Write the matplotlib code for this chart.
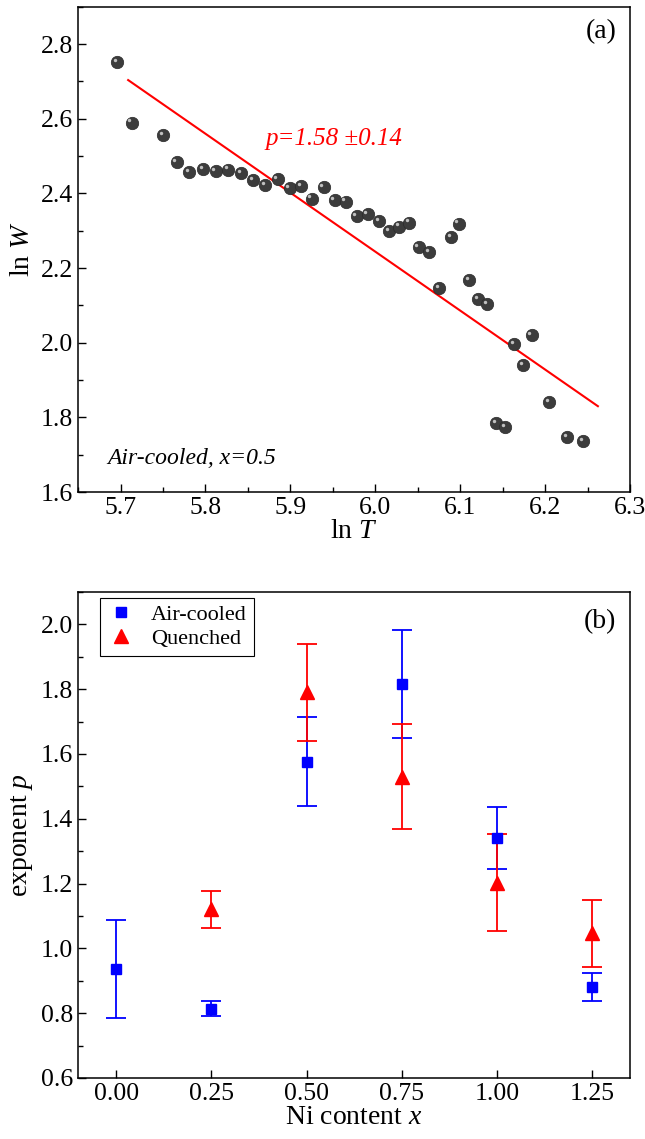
import numpy as np
import matplotlib
matplotlib.use("Agg")
import matplotlib.pyplot as plt
from matplotlib.ticker import MultipleLocator
from matplotlib.transforms import offset_copy

params = {
    "font.family": "Liberation Serif",
    "mathtext.fontset": "custom",
    "mathtext.rm": "Liberation Serif",
    "mathtext.it": "Liberation Serif:italic",
    "font.size": 18,
    "xtick.direction": "in",
    "ytick.direction": "in",
    "xtick.major.size": 6,
    "ytick.major.size": 6,
    "xtick.minor.size": 3.5,
    "ytick.minor.size": 3.5,
    "xtick.major.width": 1.0,
    "ytick.major.width": 1.0,
    "xtick.minor.width": 1.0,
    "ytick.minor.width": 1.0,
    "axes.linewidth": 1.1,
    "xtick.labelsize": 18.5,
    "ytick.labelsize": 18.5,
}
matplotlib.rcParams.update(params)

# panel (a): ln W vs ln T, air-cooled x=0.5
lnT = [5.696, 5.713, 5.750, 5.766, 5.781, 5.797, 5.812, 5.827, 5.842, 5.856,
       5.870, 5.885, 5.899, 5.913, 5.925, 5.939, 5.952, 5.965, 5.978, 5.991,
       6.004, 6.016, 6.028, 6.040, 6.051, 6.063, 6.075, 6.089, 6.098, 6.110,
       6.121, 6.132, 6.142, 6.153, 6.163, 6.174, 6.184, 6.205, 6.226, 6.245]
lnW = [2.752, 2.590, 2.557, 2.485, 2.458, 2.465, 2.459, 2.464, 2.455, 2.435,
       2.422, 2.438, 2.414, 2.419, 2.386, 2.416, 2.383, 2.378, 2.340, 2.345,
       2.326, 2.299, 2.311, 2.322, 2.256, 2.242, 2.147, 2.284, 2.319, 2.168,
       2.117, 2.103, 1.784, 1.773, 1.997, 1.941, 2.021, 1.841, 1.747, 1.736]
fit_slope = -1.58
fit_icpt = 11.724
fit_range = [5.709, 6.262]

# panel (b): exponent p vs Ni content
ni = [0.00, 0.25, 0.50, 0.75, 1.00, 1.25]
p_air = [0.935, 0.813, 1.576, 1.815, 1.340, 0.881]
p_air_err = [0.151, 0.023, 0.137, 0.167, 0.095, 0.043]
ni_q = [0.25, 0.50, 0.75, 1.00, 1.25]
p_q = [1.120, 1.790, 1.530, 1.202, 1.046]
p_q_err = [0.058, 0.149, 0.163, 0.150, 0.103]

fig = plt.figure(figsize=(6.45, 11.39), dpi=100)
ax1 = fig.add_axes([0.121, 0.568, 0.856, 0.426])
ax2 = fig.add_axes([0.121, 0.0536, 0.856, 0.4267])

# --- (a)
ax1.scatter(lnT, lnW, s=80, color="#3c3c3c", edgecolors="#2a2a2a", linewidths=0.5, zorder=3)
hl = offset_copy(ax1.transData, fig=fig, x=-1.6, y=1.6, units="points")
ax1.scatter(lnT, lnW, s=6, color="#d8d8d8", alpha=0.85, transform=hl, zorder=4, linewidths=0)
xf = np.array(fit_range)
ax1.plot(xf, fit_icpt + fit_slope * xf, color="red", lw=1.5, zorder=2)
ax1.text(5.871, 2.53, "p=1.58 \u00b10.14", color="red", fontstyle="italic", fontsize=18)
ax1.text(5.685, 1.675, "Air-cooled, x=0.5", fontstyle="italic", fontsize=17)
ax1.text(0.975, 0.975, "(a)", transform=ax1.transAxes, ha="right", va="top", fontsize=20)
ax1.set_xlim(5.65, 6.3)
ax1.set_ylim(1.6, 2.9)
ax1.xaxis.set_major_locator(MultipleLocator(0.1))
ax1.xaxis.set_minor_locator(MultipleLocator(0.05))
ax1.yaxis.set_major_locator(MultipleLocator(0.2))
ax1.yaxis.set_minor_locator(MultipleLocator(0.1))
ax1.set_xticks([5.7, 5.8, 5.9, 6.0, 6.1, 6.2, 6.3])
ax1.set_xlabel("ln $T$", fontsize=20, labelpad=0)
ax1.set_ylabel("ln $W$", fontsize=20, labelpad=4)

# --- (b)
ax2.errorbar(ni, p_air, yerr=p_air_err, fmt="s", color="blue", ms=7.5, capsize=7,
             elinewidth=1.3, capthick=1.3, label="Air-cooled", zorder=3)
ax2.errorbar(ni_q, p_q, yerr=p_q_err, fmt="^", color="red", ms=9.5, capsize=7,
             elinewidth=1.3, capthick=1.3, label="Quenched", zorder=3)
ax2.text(0.975, 0.965, "(b)", transform=ax2.transAxes, ha="right", va="top", fontsize=20)
ax2.set_xlim(-0.1, 1.35)
ax2.set_ylim(0.6, 2.1)
ax2.set_xticks(ni)
ax2.set_xticklabels(["%.2f" % v for v in ni])
ax2.yaxis.set_major_locator(MultipleLocator(0.2))
ax2.yaxis.set_minor_locator(MultipleLocator(0.1))
ax2.set_xlabel("Ni content $x$", fontsize=20, labelpad=0)
ax2.set_ylabel("exponent $p$", fontsize=20, labelpad=4)
handles, labels = ax2.get_legend_handles_labels()
handles = [h[0] for h in handles]
leg = ax2.legend(handles, labels, loc="upper left", fontsize=16, fancybox=False,
                 edgecolor="black", framealpha=1, borderpad=0.3, handletextpad=0.7,
                 handlelength=1.3, labelspacing=0.15, borderaxespad=0,
                 bbox_to_anchor=(0.04, 0.988))
leg.get_frame().set_linewidth(0.8)

for ax in (ax1, ax2):
    ax.tick_params(which="both", top=False, right=False)

fig.savefig("out.png", dpi=100)
